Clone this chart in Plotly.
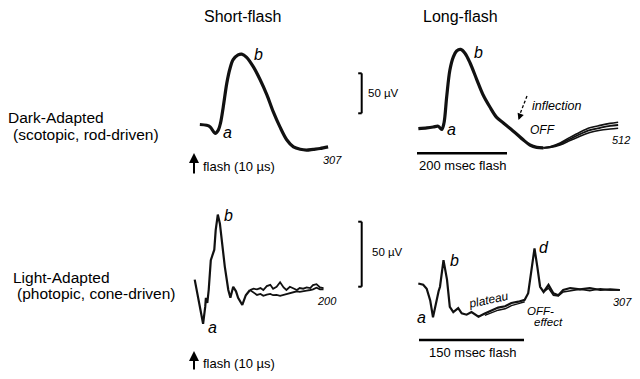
import plotly.graph_objects as go

W, H = 640, 379
FONT = "Liberation Sans, Arial, Helvetica, sans-serif"

# ---------------- data (time in ms after stimulus onset, amplitude in µV) -------------
# Dark-adapted, short flash
dark_short_t = [13, 28, 36, 47, 54, 59, 65, 73, 80, 87, 98, 106, 117, 132, 147, 162,
                176, 191, 206, 221, 236, 250, 265, 280, 298]
dark_short_v = [0, -1, -3, -11, -7, 2, 22, 52, 70, 81, 87, 88, 84, 72, 56, 37,
                16, -3, -19, -28, -31, -32, -31, -30, -28]

# Dark-adapted, long flash (common part)
dark_long_t = [3, 22, 36, 47, 55, 60, 66, 73, 81, 88, 97, 107, 118, 133, 147, 162,
               177, 192, 207, 222, 236, 251, 266, 281]
dark_long_v = [-2, -1, 0, 1, -3, 5, 38, 71, 88, 95, 97, 92, 80, 59, 40, 25,
               12, 5, -2, -9, -16, -22.5, -25.5, -26]
# Dark-adapted, long flash: diverging tails of the superimposed responses
dark_tail_t = [281, 296, 318, 340, 362, 384, 407, 429, 447]
dark_tail_1 = [-26, -24.6, -20, -13, -6.5, -1, 2, 4.5, 6]
dark_tail_2 = [-26, -25, -21, -15, -9, -4, -1, 1.5, 2.5]
dark_tail_3 = [-26, -25.5, -22.5, -17, -11.5, -7, -4, -2.5, -1.5]

# Light-adapted, short flash
light_short_t = [1, 6, 11, 13, 16, 17, 19, 21, 24, 26, 29, 31, 34, 37, 40, 44, 49,
                 52, 56, 60, 63, 69, 74, 80]
light_short_v = [8, -5, -20, -26, -13, -6, -10, 0, 23, 27, 31, 46, 58, 51, 36, 18, 0,
                 -6, 2.5, -1, -6, -11.5, -4, 0]
light_tail_t = [80, 85, 90, 95, 99, 104, 109, 113, 118, 123, 128, 132, 137, 142, 147,
                151, 156, 161, 166, 170, 175, 180, 185]
light_tail_1 = [0, 1, 0.5, 1.5, 0, 3, 4, 1, 2.5, 6, 2, 0, 2.5, 1, 0, 1.5, 1, 2, 1.5,
                3.8, 4.5, 2, 1.5]
light_tail_2 = [0, -2, -3.8, -3, -4.5, -3.5, -3, -4, -3.8, -4.5, -3.8, -3, -2, -1.5,
                -1, -1.5, -0.8, -0.5, 0, 0.5, 1.8, 0.5, 0.5]

# Light-adapted, long flash
light_long_t = [-1, 6, 11, 16, 20, 24, 28, 30, 35, 40, 44, 49, 56, 61, 68, 75, 85, 94,
                104, 113, 123, 132, 142, 151, 156, 161, 165, 169, 173, 178, 185, 192,
                199, 206, 216, 230, 244, 259, 273, 287]
light_long_v = [5, 4, 1, -8, -21, -10, -1, 2.5, 23, 8, -13, -17, -14, -18, -19, -17,
                -20.5, -18, -15.5, -13.5, -12.5, -10, -9, -7.5, -2.5, 15, 32, 18, 2.5,
                -1.5, 4, -2.5, -4, 0, 1.5, 0.5, 1.5, 0, 0.5, 0]
plateau2_t = [94, 104, 113, 123, 132, 142, 151]
plateau2_v = [-19.5, -17.5, -15.5, -14.5, -12, -10.5, -9]
light_long_tail2_t = [178, 185, 192, 199, 206, 216, 230, 244, 259, 273, 287]
light_long_tail2_v = [-1.5, 1.5, -4, -4.5, -1.5, -0.5, 0.5, -0.5, 1, 0, 0]

# ---------------- panel geometry (pixel placement of each recording) ----------------
# (origin x px for t=0, baseline y px for 0 µV, px per ms, px per µV)
PANELS = {
    "A": (194, 124.5, 0.45, 0.8),
    "B": (417, 127.0, 0.45, 0.8),
    "C": (194, 290.0, 0.70, 1.3),
    "D": (419, 290.0, 0.70, 1.3),
}
AX = {"A": ("x", "y"), "B": ("x2", "y2"), "C": ("x3", "y3"), "D": ("x4", "y4")}

fig = go.Figure()


def add(panel, t, v, width, shape="linear"):
    xa, ya = AX[panel]
    fig.add_trace(go.Scatter(x=t, y=v, mode="lines", xaxis=xa, yaxis=ya,
                             line=dict(color="#111111", width=width, shape=shape,
                                       smoothing=0.9 if shape == "spline" else None),
                             hoverinfo="skip", showlegend=False))


add("A", dark_short_t, dark_short_v, 3.2, "spline")
add("B", dark_long_t, dark_long_v, 3.2, "spline")
add("B", dark_tail_t, dark_tail_1, 1.6, "spline")
add("B", dark_tail_t, dark_tail_2, 1.8, "spline")
add("B", dark_tail_t, dark_tail_3, 1.6, "spline")
add("C", light_short_t, light_short_v, 2.2)
add("C", light_tail_t, light_tail_1, 1.8)
add("C", light_tail_t, light_tail_2, 1.8)
add("D", light_long_t, light_long_v, 2.2)
add("D", plateau2_t, plateau2_v, 1.5)
add("D", light_long_tail2_t, light_long_tail2_v, 1.5)

layout_axes = {}
for i, key in enumerate(["A", "B", "C", "D"]):
    x0, y0, sx, sy = PANELS[key]
    suffix = "" if i == 0 else str(i + 1)
    layout_axes["xaxis" + suffix] = dict(domain=[0, 1], range=[-x0 / sx, (W - x0) / sx],
                                         visible=False, fixedrange=True,
                                         anchor="y" + suffix)
    layout_axes["yaxis" + suffix] = dict(domain=[0, 1], range=[(y0 - H) / sy, y0 / sy],
                                         visible=False, fixedrange=True,
                                         anchor="x" + suffix)


def px(x):
    return x / W


def py(y):
    return 1 - y / H


# scale bars: 50 µV vertical brackets, flash-duration horizontal bars
SCALE_UV = 50
shapes = []
for key, xref_px, top_px in [("A", 361.7, 73.3), ("C", 361.7, 221.7)]:
    x0, y0, sx, sy = PANELS[key]
    yref = AX[key][1]
    top_v = (y0 - top_px) / sy
    bot_v = top_v - SCALE_UV
    ln = dict(color="black", width=2)
    shapes.append(dict(type="line", xref="paper", yref=yref, x0=px(xref_px), x1=px(xref_px),
                       y0=top_v, y1=bot_v, line=ln))
    for vv in (top_v, bot_v):
        shapes.append(dict(type="line", xref="paper", yref=yref, x0=px(xref_px - 3.5),
                           x1=px(xref_px), y0=vv, y1=vv, line=ln))

FLASH_MS_DARK = 200
FLASH_MS_LIGHT = 150
shapes.append(dict(type="line", xref="x2", yref="paper", x0=0, x1=FLASH_MS_DARK,
                   y0=py(153.3), y1=py(153.3), line=dict(color="black", width=2.5)))
shapes.append(dict(type="line", xref="x4", yref="paper", x0=0, x1=FLASH_MS_LIGHT,
                   y0=py(340), y1=py(340), line=dict(color="black", width=2.5)))
# dashed pointer for "inflection"
shapes.append(dict(type="line", xref="paper", yref="paper", x0=px(527), y0=py(96),
                   x1=px(520), y1=py(114), line=dict(color="black", width=1.3, dash="3px,2px")))


def ann(text, x, y, size, italic=False, xanchor="center", angle=0):
    if italic:
        text = "<i>" + text + "</i>"
    return dict(text=text, x=px(x), y=py(y), xref="paper", yref="paper", showarrow=False,
                xanchor=xanchor, yanchor="middle", textangle=angle,
                font=dict(size=size, family=FONT, color="black"))


annotations = [
    ann("Short-flash", 242.5, 17, 16),
    ann("Long-flash", 460, 17, 16),
    ann("Dark-Adapted", 6, 117.5, 15.5, xanchor="left"),
    ann("(scotopic, rod-driven)", 11, 134, 15.5, xanchor="left"),
    ann("Light-Adapted", 11, 277, 15.5, xanchor="left"),
    ann("(photopic, cone-driven)", 15, 293, 15.5, xanchor="left"),
    # dark short
    ann("a", 227, 132, 16, True),
    ann("b", 258, 54, 16, True),
    ann("50 µV", 366, 93.3, 11.5, xanchor="left"),
    ann("307", 332, 160, 11, True),
    ann("flash (10 µs)", 201, 166.5, 13, xanchor="left"),
    # dark long
    ann("a", 451, 130, 16, True),
    ann("b", 478, 53, 16, True),
    ann("inflection", 530, 106, 12.5, True, xanchor="left"),
    ann("OFF", 542, 129.5, 12, True),
    ann("512", 621, 139.5, 11, True),
    ann("200 msec flash", 462, 165, 13),
    # light short
    ann("a", 212, 327, 16, True),
    ann("b", 228.5, 215, 16, True),
    ann("200", 327, 301, 11, True),
    ann("50 µV", 370, 252, 11.5, xanchor="left"),
    ann("flash (10 µs)", 201, 363, 13, xanchor="left"),
    # light long
    ann("a", 421.5, 317, 16, True),
    ann("b", 454, 260, 16, True),
    ann("plateau", 488, 300, 12, True, angle=-12),
    ann("d", 544, 247, 16, True),
    ann("OFF-", 540, 310.5, 11.5, True),
    ann("effect", 548, 321.5, 11.5, True),
    ann("307", 622, 302, 11, True),
    ann("150 msec flash", 472, 352, 13),
]

# arrows (flash markers and inflection pointer head)
for tip_x, tip_y, dy in [(194, 153, 22), (194, 351, 20)]:
    annotations.append(dict(x=px(tip_x), y=py(tip_y), xref="paper", yref="paper", text="",
                            showarrow=True, ax=0, ay=dy, arrowhead=2, arrowsize=1,
                            arrowwidth=2, arrowcolor="black"))
annotations.append(dict(x=px(518.5), y=py(120), xref="paper", yref="paper", text="",
                        showarrow=True, ax=2.5, ay=-7, arrowhead=2, arrowsize=1,
                        arrowwidth=1.3, arrowcolor="black"))

fig.update_layout(width=W, height=H, margin=dict(l=0, r=0, t=0, b=0),
                  paper_bgcolor="white", plot_bgcolor="rgba(0,0,0,0)",
                  shapes=shapes, annotations=annotations, **layout_axes)

fig.write_html("out.html", config={"displayModeBar": False},
               post_script="document.body.style.margin='0';")
